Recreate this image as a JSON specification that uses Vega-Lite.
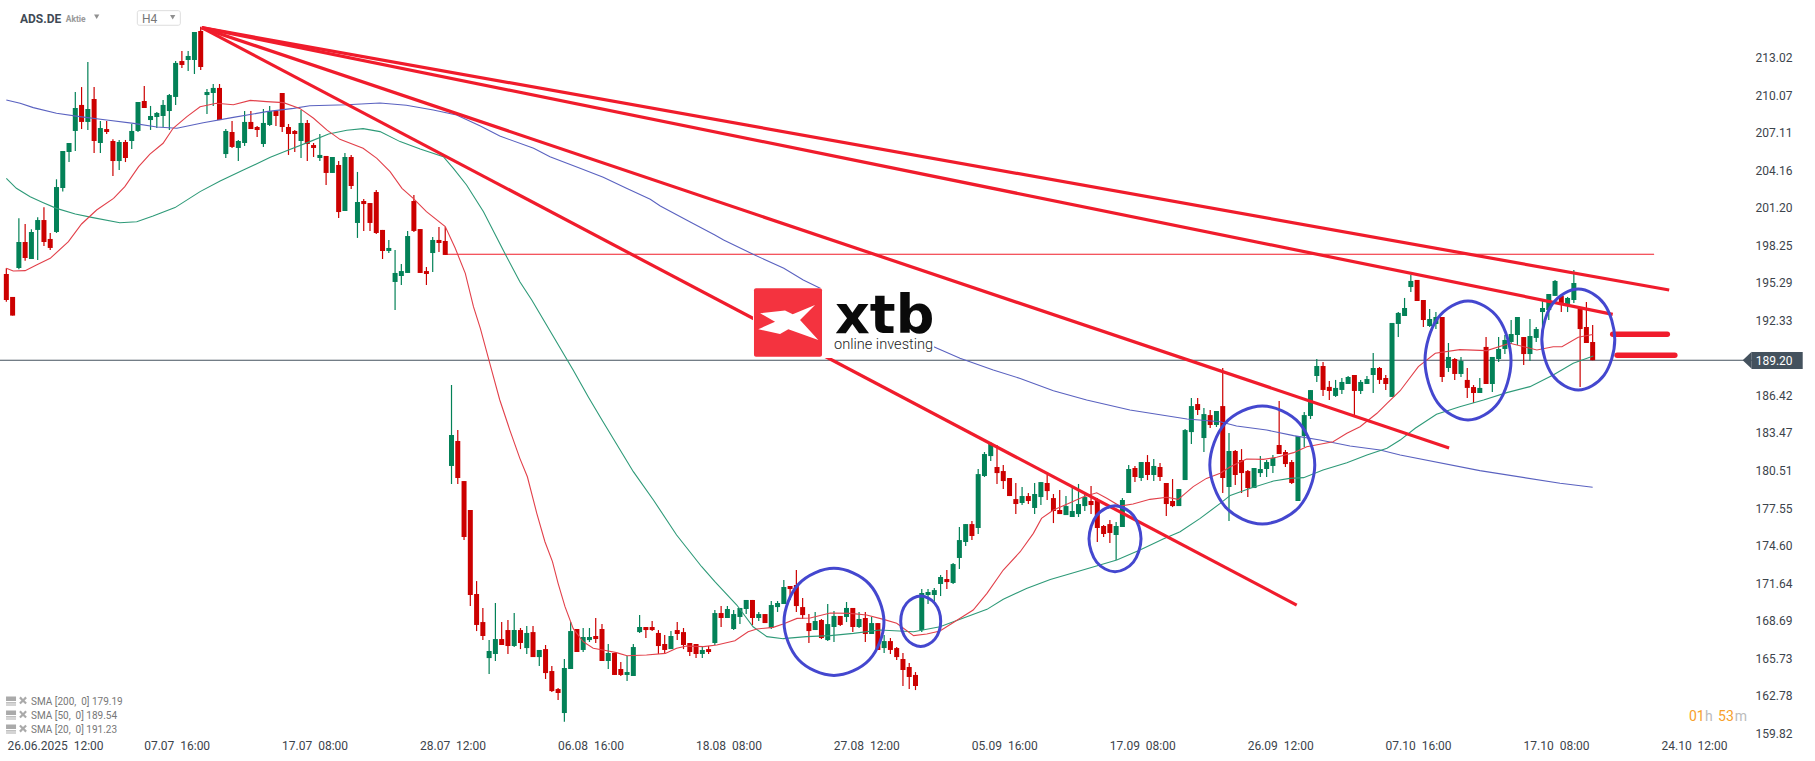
{"$schema":"https://vega.github.io/schema/vega-lite/v6.json","width":1815,"height":761,"autosize":"none","padding":0,"background":"white","config":{"view":{"stroke":null},"text":{"font":"Roboto"}},
"datasets":{
"candles":[
{"i":0,"o":196.00,"h":196.45,"l":193.82,"c":193.95},{"i":1,"o":194.19,"h":194.19,"l":192.72,"c":192.72},{"i":2,"o":196.47,"h":200.39,"l":196.37,"c":198.52},{"i":3,"o":198.52,"h":199.94,"l":197.05,"c":197.26},{"i":4,"o":197.18,"h":199.52,"l":197.18,"c":199.31},{"i":5,"o":199.47,"h":200.46,"l":197.10,"c":200.25},{"i":6,"o":200.25,"h":201.25,"l":198.21,"c":198.52},{"i":7,"o":198.76,"h":199.23,"l":197.89,"c":198.05},{"i":8,"o":199.31,"h":203.46,"l":199.23,"c":202.85},{"i":9,"o":202.78,"h":205.69,"l":202.49,"c":205.69},
{"i":10,"o":205.61,"h":206.32,"l":204.82,"c":206.32},{"i":11,"o":207.27,"h":210.34,"l":205.69,"c":209.08},{"i":12,"o":209.32,"h":210.73,"l":207.42,"c":207.98},{"i":13,"o":207.98,"h":212.70,"l":207.35,"c":209.00},{"i":14,"o":209.79,"h":210.73,"l":205.53,"c":206.48},{"i":15,"o":206.32,"h":208.05,"l":205.53,"c":207.50},{"i":16,"o":207.42,"h":208.05,"l":207.03,"c":207.19},{"i":17,"o":206.48,"h":206.61,"l":203.72,"c":204.90},{"i":18,"o":204.90,"h":206.56,"l":204.19,"c":206.40},{"i":19,"o":206.40,"h":206.56,"l":204.82,"c":205.14},
{"i":20,"o":206.48,"h":207.82,"l":205.85,"c":207.27},{"i":21,"o":207.27,"h":209.55,"l":207.19,"c":209.55},{"i":22,"o":209.63,"h":210.81,"l":209.08,"c":209.08},{"i":23,"o":208.13,"h":209.24,"l":207.35,"c":208.45},{"i":24,"o":208.37,"h":208.76,"l":207.50,"c":208.69},{"i":25,"o":208.45,"h":209.71,"l":207.58,"c":209.32},{"i":26,"o":208.84,"h":210.18,"l":207.35,"c":210.10},{"i":27,"o":209.95,"h":212.78,"l":209.32,"c":212.63},{"i":28,"o":212.78,"h":213.57,"l":212.23,"c":212.47},{"i":29,"o":212.86,"h":213.57,"l":212.00,"c":213.18},
{"i":30,"o":212.86,"h":215.07,"l":211.76,"c":215.07},{"i":31,"o":215.15,"h":215.49,"l":212.07,"c":212.31},{"i":32,"o":210.10,"h":210.58,"l":208.61,"c":210.34},{"i":33,"o":210.26,"h":210.97,"l":209.24,"c":210.66},{"i":34,"o":210.66,"h":210.97,"l":208.13,"c":208.13},{"i":35,"o":205.45,"h":207.42,"l":205.14,"c":207.27},{"i":36,"o":207.19,"h":208.05,"l":205.93,"c":206.01},{"i":37,"o":205.93,"h":206.56,"l":204.90,"c":206.48},{"i":38,"o":206.32,"h":208.84,"l":206.09,"c":207.98},{"i":39,"o":207.98,"h":208.84,"l":207.42,"c":207.42},
{"i":40,"o":207.58,"h":207.66,"l":206.79,"c":207.35},{"i":41,"o":206.24,"h":209.00,"l":206.01,"c":207.90},{"i":42,"o":207.74,"h":209.24,"l":207.66,"c":208.84},{"i":43,"o":208.84,"h":208.92,"l":207.66,"c":208.45},{"i":44,"o":210.26,"h":210.26,"l":207.19,"c":207.58},{"i":45,"o":207.58,"h":207.82,"l":205.38,"c":207.03},{"i":46,"o":207.27,"h":207.35,"l":205.61,"c":207.03},{"i":47,"o":206.48,"h":208.92,"l":205.14,"c":207.90},{"i":48,"o":207.90,"h":208.13,"l":204.90,"c":206.24},{"i":49,"o":206.16,"h":206.32,"l":205.22,"c":205.93},
{"i":50,"o":205.14,"h":207.03,"l":204.90,"c":205.38},{"i":51,"o":205.30,"h":205.30,"l":203.01,"c":203.96},{"i":52,"o":203.96,"h":205.22,"l":203.96,"c":205.22},{"i":53,"o":204.59,"h":204.90,"l":200.41,"c":200.88},{"i":54,"o":200.96,"h":205.53,"l":200.96,"c":205.22},{"i":55,"o":205.22,"h":205.38,"l":202.70,"c":202.93},{"i":56,"o":200.02,"h":204.04,"l":198.84,"c":201.67},{"i":57,"o":201.75,"h":201.91,"l":199.39,"c":201.51},{"i":58,"o":201.59,"h":201.59,"l":199.39,"c":200.02},{"i":59,"o":202.46,"h":202.62,"l":199.15,"c":199.23},
{"i":60,"o":199.47,"h":199.47,"l":197.18,"c":197.81},{"i":61,"o":197.81,"h":198.68,"l":197.65,"c":198.05},{"i":62,"o":195.37,"h":197.89,"l":193.16,"c":196.08},{"i":63,"o":195.84,"h":196.79,"l":195.13,"c":196.23},{"i":64,"o":196.08,"h":199.39,"l":196.08,"c":198.99},{"i":65,"o":201.75,"h":202.22,"l":199.31,"c":199.39},{"i":66,"o":199.54,"h":199.54,"l":196.08,"c":196.08},{"i":67,"o":196.23,"h":196.55,"l":195.13,"c":196.00},{"i":68,"o":197.65,"h":198.91,"l":196.16,"c":198.68},{"i":69,"o":198.68,"h":199.70,"l":197.73,"c":198.44},
{"i":70,"o":198.60,"h":199.70,"l":197.50,"c":197.50},{"i":71,"o":180.87,"h":187.25,"l":179.45,"c":183.31},{"i":72,"o":182.84,"h":183.70,"l":179.45,"c":179.92},{"i":73,"o":179.68,"h":179.68,"l":175.03,"c":175.27},{"i":74,"o":177.40,"h":177.40,"l":169.83,"c":170.70},{"i":75,"o":170.78,"h":171.80,"l":167.86,"c":168.34},{"i":76,"o":168.57,"h":169.68,"l":167.15,"c":167.47},{"i":77,"o":165.73,"h":167.15,"l":164.47,"c":166.29},{"i":78,"o":166.05,"h":170.07,"l":165.50,"c":167.23},{"i":79,"o":167.23,"h":168.57,"l":166.76,"c":166.76},
{"i":80,"o":167.94,"h":168.73,"l":166.05,"c":166.68},{"i":81,"o":166.68,"h":169.28,"l":166.60,"c":167.94},{"i":82,"o":167.94,"h":168.10,"l":166.44,"c":166.92},{"i":83,"o":166.52,"h":168.26,"l":166.05,"c":167.71},{"i":84,"o":167.78,"h":168.26,"l":165.81,"c":165.81},{"i":85,"o":165.81,"h":166.37,"l":165.10,"c":166.37},{"i":86,"o":166.44,"h":166.76,"l":164.08,"c":164.55},{"i":87,"o":164.71,"h":165.10,"l":163.06,"c":163.13},{"i":88,"o":163.29,"h":163.37,"l":162.43,"c":162.98},{"i":89,"o":161.40,"h":165.66,"l":160.72,"c":164.95},
{"i":90,"o":164.87,"h":168.57,"l":164.87,"c":167.86},{"i":91,"o":168.02,"h":168.02,"l":166.21,"c":166.21},{"i":92,"o":166.37,"h":168.10,"l":166.21,"c":167.39},{"i":93,"o":167.15,"h":168.10,"l":167.00,"c":167.39},{"i":94,"o":167.47,"h":168.89,"l":166.92,"c":167.23},{"i":95,"o":168.02,"h":168.41,"l":165.50,"c":165.50},{"i":96,"o":165.50,"h":166.84,"l":164.87,"c":166.13},{"i":97,"o":166.13,"h":166.13,"l":164.40,"c":164.40},{"i":98,"o":164.87,"h":165.42,"l":164.32,"c":164.40},{"i":99,"o":164.40,"h":165.89,"l":163.92,"c":164.63},
{"i":100,"o":164.32,"h":166.84,"l":164.32,"c":166.60},{"i":101,"o":167.78,"h":169.12,"l":167.71,"c":168.18},{"i":102,"o":168.18,"h":168.18,"l":167.31,"c":167.94},{"i":103,"o":168.18,"h":168.65,"l":167.86,"c":167.94},{"i":104,"o":167.71,"h":167.94,"l":166.05,"c":166.68},{"i":105,"o":166.84,"h":167.55,"l":166.05,"c":166.37},{"i":106,"o":166.44,"h":167.86,"l":166.44,"c":167.47},{"i":107,"o":167.94,"h":168.57,"l":167.15,"c":167.63},{"i":108,"o":167.78,"h":168.10,"l":166.44,"c":166.76},{"i":109,"o":166.92,"h":166.92,"l":165.89,"c":166.21},
{"i":110,"o":166.84,"h":166.84,"l":165.73,"c":166.05},{"i":111,"o":166.05,"h":166.68,"l":165.73,"c":166.37},{"i":112,"o":166.44,"h":166.68,"l":166.05,"c":166.21},{"i":113,"o":166.92,"h":169.52,"l":166.76,"c":169.28},{"i":114,"o":169.28,"h":169.83,"l":168.18,"c":168.89},{"i":115,"o":168.89,"h":169.83,"l":168.89,"c":169.60},{"i":116,"o":168.02,"h":169.52,"l":167.94,"c":169.20},{"i":117,"o":168.97,"h":169.68,"l":168.41,"c":169.68},{"i":118,"o":169.60,"h":170.31,"l":169.20,"c":170.31},{"i":119,"o":170.31,"h":170.31,"l":168.34,"c":168.89},
{"i":120,"o":168.89,"h":169.36,"l":168.65,"c":169.20},{"i":121,"o":169.20,"h":169.20,"l":168.49,"c":168.49},{"i":122,"o":168.10,"h":170.23,"l":168.02,"c":169.91},{"i":123,"o":169.75,"h":170.23,"l":169.36,"c":170.07},{"i":124,"o":169.99,"h":171.88,"l":169.99,"c":171.33},{"i":125,"o":171.41,"h":171.41,"l":170.31,"c":171.17},{"i":126,"o":171.49,"h":172.67,"l":169.36,"c":169.83},{"i":127,"o":169.75,"h":170.46,"l":168.81,"c":169.12},{"i":128,"o":168.49,"h":169.20,"l":166.92,"c":167.86},{"i":129,"o":167.94,"h":169.36,"l":167.94,"c":168.65},
{"i":130,"o":168.73,"h":168.81,"l":167.23,"c":167.31},{"i":131,"o":167.15,"h":169.99,"l":167.07,"c":168.41},{"i":132,"o":168.18,"h":169.44,"l":167.00,"c":169.05},{"i":133,"o":169.05,"h":169.05,"l":168.26,"c":168.34},{"i":134,"o":168.97,"h":170.15,"l":168.57,"c":169.68},{"i":135,"o":169.68,"h":169.68,"l":167.78,"c":168.18},{"i":136,"o":168.18,"h":169.36,"l":168.10,"c":168.81},{"i":137,"o":168.89,"h":169.36,"l":167.00,"c":167.63},{"i":138,"o":167.63,"h":168.97,"l":167.63,"c":168.49},{"i":139,"o":168.49,"h":168.49,"l":166.37,"c":166.37},
{"i":140,"o":166.52,"h":167.55,"l":166.13,"c":167.07},{"i":141,"o":167.07,"h":167.31,"l":166.05,"c":166.37},{"i":142,"o":166.52,"h":166.60,"l":165.58,"c":165.81},{"i":143,"o":165.66,"h":166.13,"l":163.53,"c":164.79},{"i":144,"o":165.03,"h":165.34,"l":163.29,"c":164.24},{"i":145,"o":164.40,"h":164.63,"l":163.21,"c":163.53},{"i":146,"o":167.94,"h":171.17,"l":167.78,"c":170.86},{"i":147,"o":170.70,"h":171.17,"l":169.99,"c":170.94},{"i":148,"o":170.70,"h":171.25,"l":170.07,"c":171.09},{"i":149,"o":171.57,"h":172.28,"l":170.62,"c":172.12},
{"i":150,"o":171.96,"h":172.67,"l":171.17,"c":171.72},{"i":151,"o":171.65,"h":173.22,"l":171.57,"c":173.14},{"i":152,"o":173.62,"h":176.06,"l":172.75,"c":175.03},{"i":153,"o":174.88,"h":176.29,"l":174.56,"c":176.29},{"i":154,"o":176.29,"h":176.53,"l":175.03,"c":175.35},{"i":155,"o":175.98,"h":180.63,"l":175.51,"c":180.23},{"i":156,"o":180.08,"h":181.97,"l":180.00,"c":181.81},{"i":157,"o":181.65,"h":182.76,"l":181.26,"c":182.60},{"i":158,"o":180.79,"h":182.52,"l":179.45,"c":180.31},{"i":159,"o":180.47,"h":180.94,"l":179.05,"c":179.68},
{"i":160,"o":179.92,"h":179.92,"l":178.50,"c":178.50},{"i":161,"o":178.26,"h":179.53,"l":177.08,"c":177.87},{"i":162,"o":177.95,"h":179.21,"l":177.79,"c":178.50},{"i":163,"o":178.50,"h":178.74,"l":177.87,"c":178.11},{"i":164,"o":177.56,"h":179.53,"l":177.08,"c":178.66},{"i":165,"o":178.42,"h":179.60,"l":177.79,"c":179.60},{"i":166,"o":179.53,"h":180.16,"l":178.19,"c":178.89},{"i":167,"o":178.34,"h":178.66,"l":176.37,"c":177.32},{"i":168,"o":177.40,"h":178.97,"l":177.08,"c":177.08},{"i":169,"o":177.00,"h":178.50,"l":177.00,"c":177.71},
{"i":170,"o":176.85,"h":179.29,"l":176.85,"c":177.32},{"i":171,"o":177.08,"h":179.45,"l":176.85,"c":177.87},{"i":172,"o":177.71,"h":178.66,"l":177.32,"c":178.42},{"i":173,"o":178.11,"h":179.29,"l":177.08,"c":177.79},{"i":174,"o":178.19,"h":178.34,"l":174.88,"c":175.98},{"i":175,"o":176.14,"h":176.22,"l":175.27,"c":175.51},{"i":176,"o":176.29,"h":176.61,"l":174.80,"c":175.59},{"i":177,"o":175.43,"h":176.45,"l":173.46,"c":176.14},{"i":178,"o":176.06,"h":178.34,"l":176.06,"c":178.19},{"i":179,"o":178.74,"h":180.94,"l":178.74,"c":180.63},
{"i":180,"o":180.71,"h":180.87,"l":179.60,"c":180.00},{"i":181,"o":179.92,"h":181.18,"l":179.68,"c":181.18},{"i":182,"o":181.18,"h":181.73,"l":179.76,"c":180.16},{"i":183,"o":180.16,"h":181.42,"l":179.68,"c":180.87},{"i":184,"o":180.79,"h":181.10,"l":179.68,"c":180.00},{"i":185,"o":179.53,"h":179.53,"l":176.93,"c":177.87},{"i":186,"o":178.11,"h":179.84,"l":177.63,"c":177.71},{"i":187,"o":177.71,"h":179.05,"l":177.71,"c":179.05},{"i":188,"o":179.76,"h":183.78,"l":179.76,"c":183.70},{"i":189,"o":183.54,"h":186.22,"l":182.60,"c":185.59},
{"i":190,"o":185.75,"h":186.22,"l":184.88,"c":185.28},{"i":191,"o":183.07,"h":185.44,"l":181.97,"c":184.96},{"i":192,"o":184.88,"h":185.28,"l":183.86,"c":184.10},{"i":193,"o":184.10,"h":185.20,"l":183.94,"c":185.20},{"i":194,"o":185.59,"h":188.59,"l":178.74,"c":179.92},{"i":195,"o":179.21,"h":183.47,"l":176.53,"c":182.05},{"i":196,"o":182.05,"h":182.13,"l":179.37,"c":180.16},{"i":197,"o":181.34,"h":182.20,"l":178.74,"c":180.31},{"i":198,"o":180.47,"h":180.55,"l":178.42,"c":179.13},{"i":199,"o":179.13,"h":180.71,"l":179.13,"c":180.71},
{"i":200,"o":180.31,"h":181.65,"l":180.00,"c":180.63},{"i":201,"o":180.63,"h":181.34,"l":180.00,"c":181.18},{"i":202,"o":180.87,"h":181.73,"l":180.31,"c":181.50},{"i":203,"o":182.52,"h":185.99,"l":181.81,"c":181.81},{"i":204,"o":181.97,"h":182.13,"l":180.79,"c":181.02},{"i":205,"o":181.18,"h":181.34,"l":179.45,"c":179.53},{"i":206,"o":178.11,"h":183.23,"l":178.11,"c":183.23},{"i":207,"o":183.23,"h":185.12,"l":182.36,"c":184.88},{"i":208,"o":184.81,"h":186.85,"l":184.57,"c":186.85},{"i":209,"o":187.96,"h":189.30,"l":187.49,"c":188.75},
{"i":210,"o":188.75,"h":189.07,"l":186.39,"c":186.86},{"i":211,"o":187.10,"h":187.57,"l":186.07,"c":186.78},{"i":212,"o":186.39,"h":187.65,"l":186.31,"c":187.02},{"i":213,"o":186.86,"h":187.80,"l":186.54,"c":187.49},{"i":214,"o":187.33,"h":187.96,"l":187.33,"c":187.88},{"i":215,"o":188.04,"h":188.04,"l":184.89,"c":186.78},{"i":216,"o":186.78,"h":187.65,"l":186.54,"c":187.49},{"i":217,"o":187.33,"h":187.96,"l":187.33,"c":187.72},{"i":218,"o":188.04,"h":189.77,"l":186.62,"c":188.59},{"i":219,"o":188.59,"h":188.67,"l":187.33,"c":187.65},
{"i":220,"o":187.80,"h":188.04,"l":186.86,"c":187.33},{"i":221,"o":186.31,"h":192.14,"l":186.31,"c":192.14},{"i":222,"o":192.06,"h":193.00,"l":191.03,"c":192.93},{"i":223,"o":192.69,"h":194.11,"l":192.69,"c":193.32},{"i":224,"o":194.97,"h":195.92,"l":194.58,"c":195.45},{"i":225,"o":195.53,"h":195.53,"l":193.87,"c":193.87},{"i":226,"o":193.95,"h":193.95,"l":191.82,"c":192.37},{"i":227,"o":191.90,"h":193.24,"l":191.82,"c":192.45},{"i":228,"o":192.06,"h":193.00,"l":191.66,"c":192.61},{"i":229,"o":192.61,"h":192.61,"l":187.49,"c":187.88},
{"i":230,"o":188.59,"h":190.56,"l":188.28,"c":189.46},{"i":231,"o":189.30,"h":189.38,"l":187.65,"c":188.12},{"i":232,"o":188.12,"h":189.46,"l":187.88,"c":189.14},{"i":233,"o":187.65,"h":188.59,"l":186.23,"c":187.02},{"i":234,"o":187.09,"h":187.25,"l":185.83,"c":186.62},{"i":235,"o":186.62,"h":187.80,"l":186.62,"c":187.02},{"i":236,"o":190.25,"h":191.03,"l":187.33,"c":187.33},{"i":237,"o":187.33,"h":189.46,"l":186.70,"c":189.46},{"i":238,"o":189.30,"h":191.03,"l":189.06,"c":190.09},{"i":239,"o":190.09,"h":191.19,"l":189.69,"c":190.80},
{"i":240,"o":190.64,"h":192.37,"l":190.48,"c":191.27},{"i":241,"o":191.19,"h":192.61,"l":190.40,"c":192.61},{"i":242,"o":191.03,"h":191.03,"l":188.83,"c":189.69},{"i":243,"o":189.69,"h":192.45,"l":189.14,"c":191.11},{"i":244,"o":190.96,"h":191.82,"l":190.64,"c":191.66},{"i":245,"o":193.00,"h":193.95,"l":191.82,"c":193.32},{"i":246,"o":193.16,"h":194.42,"l":192.37,"c":194.42},{"i":247,"o":194.27,"h":195.53,"l":194.27,"c":195.45},{"i":248,"o":194.27,"h":194.34,"l":193.00,"c":193.71},{"i":249,"o":193.64,"h":194.19,"l":193.00,"c":194.11},
{"i":250,"o":193.95,"h":196.31,"l":193.71,"c":195.29},{"i":251,"o":193.24,"h":193.32,"l":187.09,"c":191.66},{"i":252,"o":191.82,"h":193.79,"l":190.56,"c":190.56},{"i":253,"o":190.64,"h":191.98,"l":189.20,"c":189.20}
],
"sma20":[{"i":0,"p":196.45},{"i":1.1,"p":196.23},{"i":3,"p":196.26},{"i":4.8,"p":196.71},{"i":7,"p":197.23},{"i":9.9,"p":198.55},{"i":12,"p":199.94},{"i":14.4,"p":201.04},{"i":17.1,"p":201.96},{"i":18.9,"p":202.88},{"i":21.1,"p":204.46},{"i":22.9,"p":205.45},{"i":25,"p":206.3},{"i":26.6,"p":207.48},{"i":28.8,"p":208.4},{"i":30.9,"p":209.18},{"i":33.5,"p":209.45},{"i":36.2,"p":209.34},{"i":38.9,"p":209.68},{"i":41.5,"p":209.58},{"i":44.2,"p":209.5},{"i":46.8,"p":209.05},{"i":49,"p":208.27},{"i":51.1,"p":207.35},{"i":53.2,"p":206.61},{"i":56.9,"p":205.9},{"i":59.1,"p":205.11},{"i":61.2,"p":204.06},{"i":63.1,"p":202.75},{"i":64.9,"p":201.96},{"i":67,"p":200.91},{"i":70,"p":199.73},{"i":71.6,"p":198.02},{"i":73.2,"p":196.05},{"i":74.5,"p":193.42},{"i":75.6,"p":191.72},{"i":77.4,"p":188.43},{"i":78.7,"p":186.07},{"i":80.3,"p":183.7},{"i":81.9,"p":181.47},{"i":83.1,"p":180.02},{"i":84.6,"p":177.14},{"i":85.9,"p":174.9},{"i":87.1,"p":173.33},{"i":88,"p":171.62},{"i":89.1,"p":169.78},{"i":90.4,"p":168.07},{"i":92,"p":167.02},{"i":93.6,"p":166.5},{"i":95.8,"p":166.31},{"i":97.3,"p":166.16},{"i":99,"p":165.92},{"i":102.1,"p":165.97},{"i":105.1,"p":166.1},{"i":106.9,"p":166.5},{"i":108.5,"p":166.68},{"i":111.2,"p":166.63},{"i":113.3,"p":166.76},{"i":116.2,"p":167.1},{"i":118.3,"p":167.81},{"i":119.7,"p":168.02},{"i":122.3,"p":168.15},{"i":123.9,"p":168.41},{"i":126.1,"p":168.86},{"i":128.2,"p":168.89},{"i":131.4,"p":169.28},{"i":134.6,"p":169.25},{"i":137.2,"p":169.12},{"i":139.9,"p":168.78},{"i":142,"p":168.47},{"i":144.7,"p":167.5},{"i":146.8,"p":167.63},{"i":148.9,"p":167.86},{"i":154.2,"p":169.52},{"i":156.4,"p":170.83},{"i":159,"p":172.67},{"i":161.7,"p":174.11},{"i":163.8,"p":175.56},{"i":165.1,"p":176.74},{"i":167,"p":177.4},{"i":169.4,"p":177.92},{"i":171.8,"p":178.45},{"i":173.9,"p":178.76},{"i":175.5,"p":178.32},{"i":177.6,"p":177.71},{"i":179.7,"p":177.87},{"i":182.4,"p":178.24},{"i":185.1,"p":178.4},{"i":186.9,"p":178.24},{"i":189.3,"p":179.24},{"i":191.4,"p":179.89},{"i":193.6,"p":180.29},{"i":195.2,"p":180.81},{"i":197.8,"p":181.42},{"i":200.5,"p":181.39},{"i":202.6,"p":181.55},{"i":205.3,"p":181.92},{"i":207.4,"p":182.39},{"i":211.6,"p":182.78},{"i":213.8,"p":183.44},{"i":215.9,"p":183.96},{"i":218.6,"p":185.02},{"i":220.2,"p":185.8},{"i":222.3,"p":186.8},{"i":225.2,"p":188.7},{"i":227.9,"p":189.75},{"i":231.8,"p":190.04},{"i":236.1,"p":189.96},{"i":239.8,"p":190.54},{"i":244.1,"p":190.01},{"i":246.7,"p":190.27},{"i":248.1,"p":190.27},{"i":250.7,"p":191.01},{"i":253,"p":191.23}],
"sma50":[{"i":0,"p":203.54},{"i":1.6,"p":202.75},{"i":3.8,"p":202.09},{"i":5.9,"p":201.62},{"i":8,"p":201.17},{"i":11,"p":200.73},{"i":13.6,"p":200.46},{"i":18.1,"p":200.04},{"i":20.8,"p":200.12},{"i":23.4,"p":200.57},{"i":26.9,"p":201.23},{"i":30.9,"p":202.49},{"i":34.1,"p":203.33},{"i":37.8,"p":204.19},{"i":42.1,"p":205.19},{"i":45,"p":205.77},{"i":48.4,"p":206.43},{"i":51.4,"p":207.03},{"i":54.3,"p":207.32},{"i":56.9,"p":207.45},{"i":59.6,"p":207.22},{"i":62.8,"p":206.43},{"i":66,"p":205.85},{"i":69.7,"p":205.24},{"i":71.3,"p":204.32},{"i":73.4,"p":203.01},{"i":76.1,"p":200.91},{"i":79.5,"p":197.63},{"i":81.9,"p":195.39},{"i":83.8,"p":193.95},{"i":90.4,"p":188.43},{"i":92.8,"p":186.33},{"i":95,"p":184.49},{"i":97.1,"p":182.78},{"i":100,"p":180.42},{"i":103.2,"p":178.19},{"i":106.9,"p":175.43},{"i":110.9,"p":172.93},{"i":113,"p":171.75},{"i":116.5,"p":169.91},{"i":119.1,"p":168.2},{"i":121.3,"p":167.42},{"i":123.9,"p":167.26},{"i":127.6,"p":167.42},{"i":131.4,"p":167.5},{"i":135.1,"p":167.68},{"i":139.3,"p":167.94},{"i":144.7,"p":167.81},{"i":148.9,"p":168.2},{"i":156.4,"p":169.57},{"i":159,"p":170.36},{"i":162.7,"p":171.22},{"i":166.5,"p":171.93},{"i":170.2,"p":172.46},{"i":174.4,"p":173.06},{"i":177.1,"p":173.46},{"i":180.8,"p":174.25},{"i":184.5,"p":175.11},{"i":187.2,"p":175.69},{"i":190.4,"p":176.74},{"i":193.6,"p":177.92},{"i":195.2,"p":178.55},{"i":198.4,"p":179.11},{"i":202.1,"p":179.68},{"i":204.7,"p":179.89},{"i":206.9,"p":179.95},{"i":210,"p":180.55},{"i":213.8,"p":181.13},{"i":217,"p":181.73},{"i":220.2,"p":182.26},{"i":222.3,"p":182.91},{"i":224.7,"p":183.84},{"i":228.1,"p":184.94},{"i":231.8,"p":185.54},{"i":235.6,"p":186.07},{"i":239.3,"p":186.65},{"i":243,"p":187.12},{"i":246.7,"p":188.04},{"i":249.9,"p":188.96},{"i":253.1,"p":189.54}],
"sma200":[{"i":0,"p":209.71},{"i":2.2,"p":209.45},{"i":4.3,"p":209.11},{"i":8,"p":208.66},{"i":11.7,"p":208.4},{"i":16,"p":208.13},{"i":20.3,"p":207.87},{"i":24,"p":207.58},{"i":27.2,"p":207.48},{"i":31.4,"p":207.92},{"i":36.2,"p":208.34},{"i":41.5,"p":208.79},{"i":45.8,"p":209.05},{"i":48.4,"p":209.26},{"i":54.3,"p":209.34},{"i":59.6,"p":209.47},{"i":63.8,"p":209.29},{"i":68.1,"p":208.92},{"i":71.8,"p":208.53},{"i":75.6,"p":207.66},{"i":78.7,"p":206.87},{"i":84.1,"p":205.9},{"i":86.7,"p":205.24},{"i":91.5,"p":204.33},{"i":95.2,"p":203.62},{"i":98.9,"p":202.75},{"i":102.7,"p":201.88},{"i":104.3,"p":201.36},{"i":109,"p":200.12},{"i":113,"p":199.07},{"i":114.4,"p":198.68},{"i":119.1,"p":197.55},{"i":124,"p":196.45},{"i":127.1,"p":195.53},{"i":129.8,"p":194.87},{"i":147.9,"p":190.27},{"i":152.1,"p":189.35},{"i":157.4,"p":188.43},{"i":161.7,"p":187.77},{"i":167,"p":186.8},{"i":172.3,"p":186.07},{"i":179.2,"p":185.28},{"i":188.3,"p":184.57},{"i":193.6,"p":184.36},{"i":196.2,"p":184.02},{"i":201,"p":183.7},{"i":205.3,"p":183.26},{"i":209.5,"p":182.91},{"i":214.3,"p":182.44},{"i":219.1,"p":182.13},{"i":222.3,"p":181.73},{"i":235,"p":180.5},{"i":247.8,"p":179.51},{"i":253,"p":179.19}],
"trend":[{"s":"a","i":31.16,"p":215.41},{"s":"a","i":265.2,"p":194.74},{"s":"b","i":31.16,"p":215.41},{"s":"b","i":256.2,"p":192.82},{"s":"c","i":31.16,"p":215.41},{"s":"c","i":230.1,"p":182.29},{"s":"d","i":31.16,"p":215.41},{"s":"d","i":205.8,"p":169.91}],
"dashes":[{"s":"a","i":256.2,"p":191.25},{"s":"a","i":264.9,"p":191.25},{"s":"b","i":256.9,"p":189.59},{"s":"b","i":266.1,"p":189.59}],
"circles":[
{"e":1,"k":0,"i":139.97,"p":168.58},{"e":1,"k":1,"i":137.64,"p":171.56},{"e":1,"k":2,"i":132,"p":172.8},{"e":1,"k":3,"i":126.36,"p":171.56},{"e":1,"k":4,"i":124.03,"p":168.58},{"e":1,"k":5,"i":126.36,"p":165.6},{"e":1,"k":6,"i":132,"p":164.36},{"e":1,"k":7,"i":137.64,"p":165.6},
{"e":2,"k":0,"i":149.02,"p":168.63},{"e":2,"k":1,"i":148.09,"p":170.04},{"e":2,"k":2,"i":145.83,"p":170.62},{"e":2,"k":3,"i":143.57,"p":170.04},{"e":2,"k":4,"i":142.64,"p":168.63},{"e":2,"k":5,"i":143.57,"p":167.22},{"e":2,"k":6,"i":145.83,"p":166.64},{"e":2,"k":7,"i":148.09,"p":167.22},
{"e":3,"k":0,"i":180.97,"p":175.13},{"e":3,"k":1,"i":179.75,"p":176.97},{"e":3,"k":2,"i":176.82,"p":177.73},{"e":3,"k":3,"i":173.89,"p":176.97},{"e":3,"k":4,"i":172.67,"p":175.13},{"e":3,"k":5,"i":173.89,"p":173.29},{"e":3,"k":6,"i":176.82,"p":172.53},{"e":3,"k":7,"i":179.75,"p":173.29},
{"e":4,"k":0,"i":208.68,"p":180.95},{"e":4,"k":1,"i":206.23,"p":184.24},{"e":4,"k":2,"i":200.31,"p":185.6},{"e":4,"k":3,"i":194.39,"p":184.24},{"e":4,"k":4,"i":191.94,"p":180.95},{"e":4,"k":5,"i":194.39,"p":177.66},{"e":4,"k":6,"i":200.31,"p":176.3},{"e":4,"k":7,"i":206.23,"p":177.66},
{"e":5,"k":0,"i":239.98,"p":189.18},{"e":5,"k":1,"i":237.97,"p":192.5},{"e":5,"k":2,"i":233.12,"p":193.87},{"e":5,"k":3,"i":228.27,"p":192.5},{"e":5,"k":4,"i":226.26,"p":189.18},{"e":5,"k":5,"i":228.27,"p":185.86},{"e":5,"k":6,"i":233.12,"p":184.49},{"e":5,"k":7,"i":237.97,"p":185.86},
{"e":6,"k":0,"i":256.53,"p":190.84},{"e":6,"k":1,"i":254.83,"p":193.65},{"e":6,"k":2,"i":250.71,"p":194.82},{"e":6,"k":3,"i":246.59,"p":193.65},{"e":6,"k":4,"i":244.89,"p":190.84},{"e":6,"k":5,"i":246.59,"p":188.03},{"e":6,"k":6,"i":250.71,"p":186.86},{"e":6,"k":7,"i":254.83,"p":188.03}]
},
"encoding":{"x":{"field":"i","type":"quantitative","title":null,"scale":{"domain":[-1.01,288.46],"nice":false,"zero":false,"padding":0},"axis":{"orient":"bottom","offset":-12,"values":[7.6,27,49,71,93,115,137,159,181,203,225,247,269],"labelExpr":"['26.06.2025\u00a0\u00a012:00','07.07\u00a0\u00a016:00','17.07\u00a0\u00a008:00','28.07\u00a0\u00a012:00','06.08\u00a0\u00a016:00','18.08\u00a0\u00a008:00','27.08\u00a0\u00a012:00','05.09\u00a0\u00a016:00','17.09\u00a0\u00a008:00','26.09\u00a0\u00a012:00','07.10\u00a0\u00a016:00','17.10\u00a0\u00a008:00','24.10\u00a0\u00a012:00'][indexof([7.6,27,49,71,93,115,137,159,181,203,225,247,269],datum.value)]","grid":false,"ticks":false,"domain":false,"labelFont":"Roboto","labelFontSize":12,"labelColor":"#3c444c","labelBaseline":"alphabetic","labelPadding":0,"labelOffset":1,"labelOverlap":false,"labelFlush":false}}},
"layer":[
{"data":{"values":[{"i":-1.01,"p":189.2},{"i":278.4,"p":189.2}]},"mark":{"type":"line","color":"#44525e","strokeWidth":1.2},"encoding":{"y":{"field":"p","type":"quantitative","title":null,"scale":{"domain":[157.62,217.59],"nice":false,"zero":false},"axis":{"orient":"right","offset":-60,"values":[213.02,210.07,207.11,204.16,201.20,198.25,195.29,192.33,186.42,183.47,180.51,177.55,174.60,171.64,168.69,165.73,162.78,159.82],"format":".2f","grid":false,"ticks":false,"domain":false,"labelFont":"Roboto","labelFontSize":12,"labelColor":"#3c444c","labelPadding":0,"labelAlign":"left","labelOverlap":false,"labelFlush":false}}}},
{"data":{"values":[{"i":70,"p":197.55},{"i":262.8,"p":197.55}]},"mark":{"type":"line","color":"#f01c28","strokeWidth":1.1},"encoding":{"y":{"field":"p","type":"quantitative"}}},
{"data":{"name":"candles"},"mark":{"type":"rule","strokeWidth":1.2},"encoding":{"y":{"field":"h","type":"quantitative"},"y2":{"field":"l"},"color":{"condition":{"test":"datum.c>=datum.o","value":"#038157"},"value":"#cc0000"}}},
{"data":{"name":"candles"},"mark":{"type":"bar","size":5},"encoding":{"y":{"field":"o","type":"quantitative"},"y2":{"field":"c"},"color":{"condition":{"test":"datum.c>=datum.o","value":"#038157"},"value":"#cc0000"}}},
{"data":{"name":"sma200"},"mark":{"type":"line","color":"#5a62c0","strokeWidth":1.1},"encoding":{"y":{"field":"p","type":"quantitative"}}},
{"data":{"name":"sma50"},"mark":{"type":"line","color":"#2e9a78","strokeWidth":1.1},"encoding":{"y":{"field":"p","type":"quantitative"}}},
{"data":{"name":"sma20"},"mark":{"type":"line","color":"#e2404a","strokeWidth":1.1},"encoding":{"y":{"field":"p","type":"quantitative"}}},
{"data":{"name":"trend"},"mark":{"type":"line","color":"#f01c2c","strokeWidth":3.2},"encoding":{"y":{"field":"p","type":"quantitative"},"detail":{"field":"s"}}},
{"data":{"name":"dashes"},"mark":{"type":"line","color":"#f01c2c","strokeWidth":5.5,"strokeCap":"round"},"encoding":{"y":{"field":"p","type":"quantitative"},"detail":{"field":"s"}}},
{"data":{"name":"circles"},"mark":{"type":"line","color":"#4447cf","strokeWidth":3,"interpolate":"cardinal-closed"},"encoding":{"y":{"field":"p","type":"quantitative"},"detail":{"field":"e"},"order":{"field":"k"}}},
{"data":{"values":[{"i":119.08,"i2":147.95,"p":194.9,"p2":189.38}]},"mark":{"type":"rect","color":"white"},"encoding":{"x2":{"field":"i2"},"y":{"field":"p","type":"quantitative"},"y2":{"field":"p2"}}},
{"data":{"values":[{"i":119.24,"i2":130.09,"p":194.87,"p2":189.48}]},"mark":{"type":"rect","color":"#f4333f","cornerRadius":2},"encoding":{"x2":{"field":"i2"},"y":{"field":"p","type":"quantitative"},"y2":{"field":"p2"}}},
{"data":{"values":[{"i":124.67,"p":192.19}]},"mark":{"type":"point","filled":true,"opacity":1,"color":"white","size":3600,"shape":"M-.93,-.3L-.1,-.39L.157,-.267L.9,-.577L.4,-.077L1.01,.59L.01,.233L-.267,.39L-.99,.233L-.433,-.023Z"},"encoding":{"y":{"field":"p","type":"quantitative"}}},
{"data":{"values":[{"i":132.16,"p":191.33,"t":"xtb"}]},"mark":{"type":"text","font":"DejaVu Sans","fontWeight":"bold","fontSize":54,"color":"#0a0a0a","align":"left","baseline":"alphabetic"},"encoding":{"y":{"field":"p","type":"quantitative"},"text":{"field":"t"}}},
{"data":{"values":[{"i":132,"p":190.06,"t":"online investing"}]},"mark":{"type":"text","font":"Roboto","fontWeight":300,"fontSize":14.6,"color":"#222222","align":"left","baseline":"alphabetic"},"encoding":{"y":{"field":"p","type":"quantitative"},"text":{"field":"t"}}},
{"data":{"values":[{"i":278.36,"i2":286.5,"p":189.85,"p2":188.51}]},"mark":{"type":"rect","color":"#44525e"},"encoding":{"x2":{"field":"i2"},"y":{"field":"p","type":"quantitative"},"y2":{"field":"p2"}}},
{"data":{"values":[{"i":277.64,"p":189.2}]},"mark":{"type":"point","filled":true,"opacity":1,"color":"#44525e","size":100,"shape":"M-.9,0L.9,-1.7L.9,1.7Z"},"encoding":{"y":{"field":"p","type":"quantitative"}}},
{"data":{"values":[{"i":279,"p":189.14,"t":"189.20"}]},"mark":{"type":"text","font":"Roboto","fontSize":12,"color":"white","align":"left","baseline":"middle"},"encoding":{"y":{"field":"p","type":"quantitative"},"text":{"field":"t"}}},
{"data":{"values":[{"i":2.18,"p":215.8,"t":"ADS.DE"}]},"mark":{"type":"text","font":"Roboto","fontWeight":"bold","fontSize":12,"color":"#3f4a55","align":"left","baseline":"alphabetic"},"encoding":{"y":{"field":"p","type":"quantitative"},"text":{"field":"t"}}},
{"data":{"values":[{"i":9.47,"p":215.86,"t":"Aktie"}]},"mark":{"type":"text","font":"Roboto","fontWeight":"bold","fontSize":8.5,"color":"#999999","align":"left","baseline":"alphabetic"},"encoding":{"y":{"field":"p","type":"quantitative"},"text":{"field":"t"}}},
{"data":{"values":[{"i":14.41,"p":216.27},{"i":26.53,"p":216.23}]},"mark":{"type":"point","filled":true,"opacity":1,"color":"#909090","shape":"triangle-down","size":28},"encoding":{"y":{"field":"p","type":"quantitative"}}},
{"data":{"values":[{"i":20.89,"i2":27.75,"p":216.75,"p2":215.6}]},"mark":{"type":"rect","fill":"transparent","stroke":"#dddddd","strokeWidth":1,"cornerRadius":2},"encoding":{"x2":{"field":"i2"},"y":{"field":"p","type":"quantitative"},"y2":{"field":"p2"}}},
{"data":{"values":[{"i":21.64,"p":215.75,"t":"H4"}]},"mark":{"type":"text","font":"Roboto","fontSize":12,"color":"#777777","align":"left","baseline":"alphabetic"},"encoding":{"y":{"field":"p","type":"quantitative"},"text":{"field":"t"}}},
{"data":{"values":[{"i":3.93,"p":162.03,"t":"SMA\u00a0[200,\u00a0\u00a00]\u00a0179.19"},{"i":3.93,"p":160.93,"t":"SMA\u00a0[50,\u00a0\u00a00]\u00a0189.54"},{"i":3.93,"p":159.83,"t":"SMA\u00a0[20,\u00a0\u00a00]\u00a0191.23"}]},"mark":{"type":"text","font":"Roboto","fontSize":10,"color":"#777777","align":"left","baseline":"alphabetic"},"encoding":{"y":{"field":"p","type":"quantitative"},"text":{"field":"t"}}},
{"data":{"values":[{"i":0.75,"p":162.39},{"i":0.75,"p":161.29},{"i":0.75,"p":160.18}]},"mark":{"type":"point","filled":true,"opacity":1,"color":"#aaaaaa","size":100,"shape":"M-1,-.8H1V.1H-1Z M-1,.35H1V.6H-1Z M-1,.8H1V1H-1Z"},"encoding":{"y":{"field":"p","type":"quantitative"}}},
{"data":{"values":[{"i":2.66,"p":162.39},{"i":2.66,"p":161.29},{"i":2.66,"p":160.18}]},"mark":{"type":"point","filled":true,"opacity":1,"color":"#aaaaaa","size":60,"shape":"M-1,-.6L-.6,-1L0,-.4L.6,-1L1,-.6L.4,0L1,.6L.6,1L0,.4L-.6,1L-1,.6L-.4,0Z"},"encoding":{"y":{"field":"p","type":"quantitative"}}},
{"data":{"values":[{"i":268.36,"p":160.77,"t":"01"},{"i":273,"p":160.77,"t":"53"}]},"mark":{"type":"text","font":"Roboto","fontSize":14,"color":"#f7a02a","align":"left","baseline":"alphabetic"},"encoding":{"y":{"field":"p","type":"quantitative"},"text":{"field":"t"}}},
{"data":{"values":[{"i":270.9,"p":160.77,"t":"h"},{"i":275.65,"p":160.77,"t":"m"}]},"mark":{"type":"text","font":"Roboto","fontSize":14,"color":"#bbbbbb","align":"left","baseline":"alphabetic"},"encoding":{"y":{"field":"p","type":"quantitative"},"text":{"field":"t"}}}
]}
